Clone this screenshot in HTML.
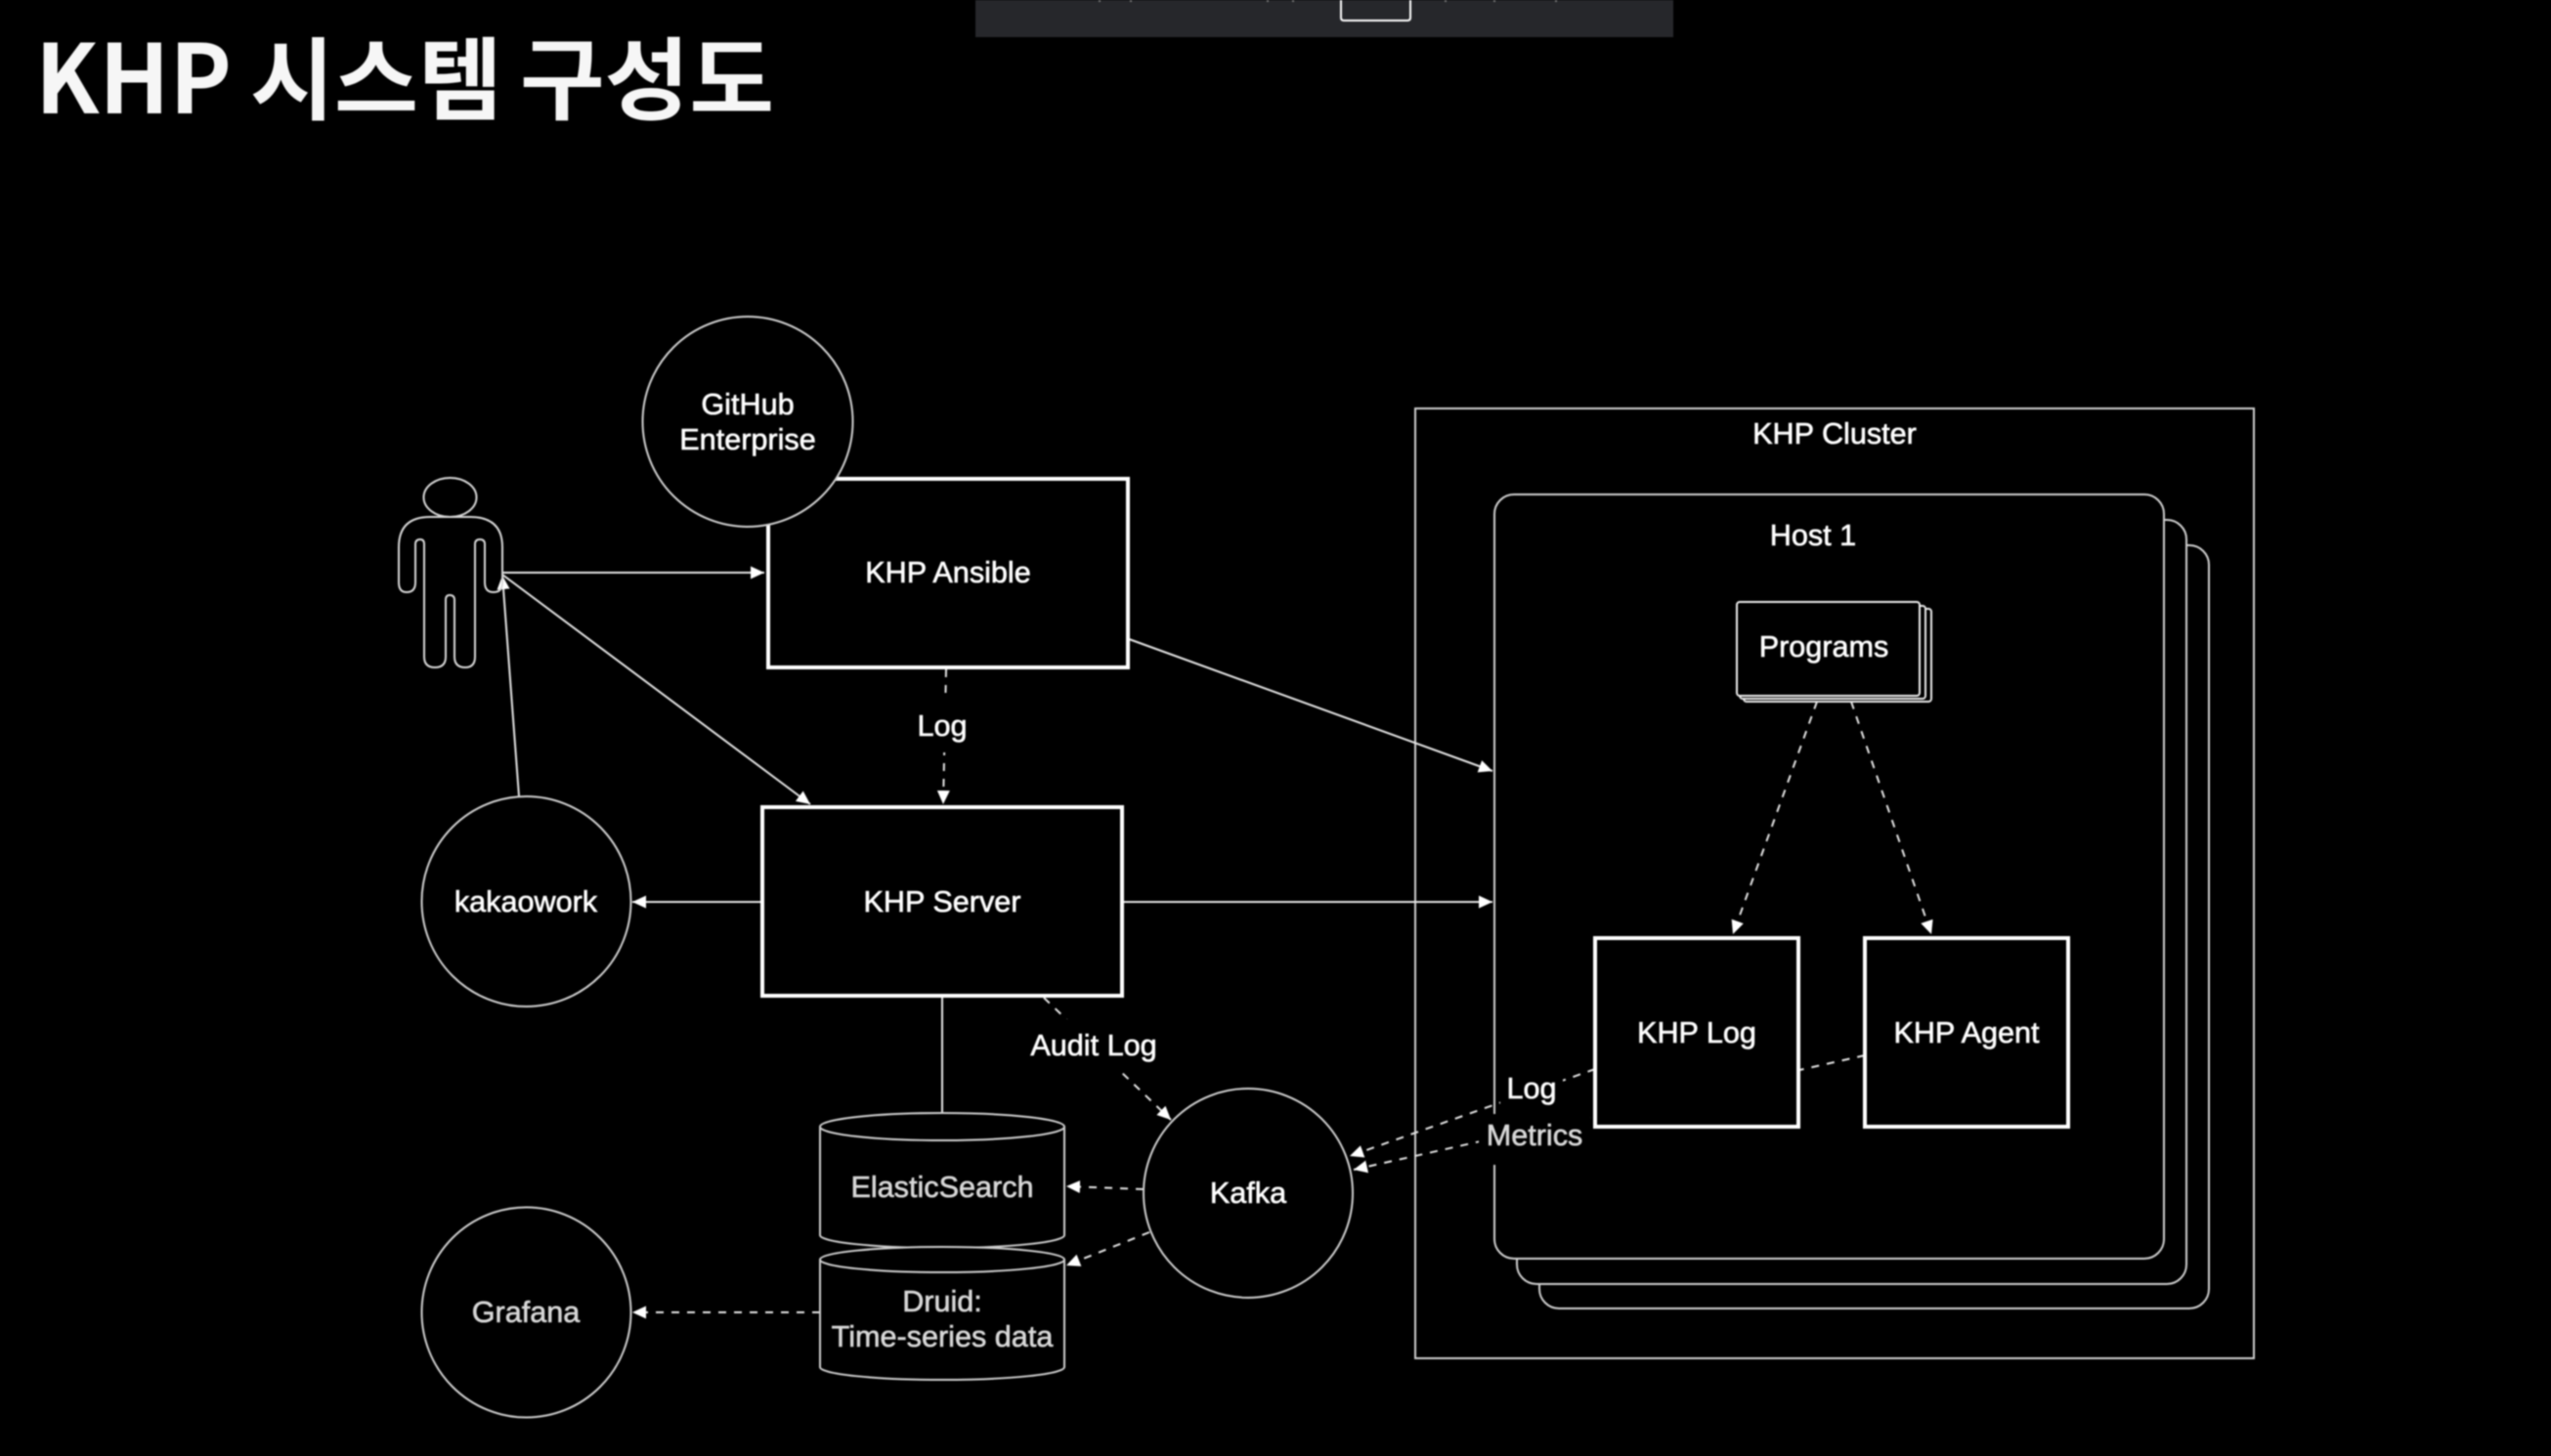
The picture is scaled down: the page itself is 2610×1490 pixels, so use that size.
<!DOCTYPE html>
<html lang="ko">
<head>
<meta charset="utf-8">
<title>KHP 시스템 구성도</title>
<style>
html,body{margin:0;padding:0;background:#000;width:2610px;height:1490px;overflow:hidden}
svg{display:block;filter:blur(0.7px)}
text{font-family:"Liberation Sans",Arial,sans-serif;font-size:30.6px;fill:#fff;stroke:#fff;stroke-width:.6px;text-anchor:middle;dominant-baseline:central}
text:not(.t){transform:translateY(-1px)}
.t{font-family:"Noto Sans CJK KR","Liberation Sans",sans-serif;font-weight:700;stroke-width:0;text-anchor:start;dominant-baseline:auto;fill:#f6f6f6}
.thin{fill:#000;stroke:#cfcfcf;stroke-width:2}
.box{fill:#000;stroke:#fff;stroke-width:4}
.l{fill:none;stroke:#e4e4e4;stroke-width:2}
.a{marker-end:url(#h)}
.d{stroke-dasharray:8 8}
.g{fill:#d8d8d8;stroke:#d8d8d8}
</style>
</head>
<body>
<svg width="2610" height="1490" viewBox="0 0 2610 1490" xmlns="http://www.w3.org/2000/svg">
<defs>
<marker id="h" markerUnits="userSpaceOnUse" markerWidth="15" markerHeight="14" refX="14" refY="6.5" orient="auto">
<path d="M0,0 L14,6.5 L0,13 z" fill="#fff"/>
</marker>
</defs>

<rect width="2610" height="1490" fill="#000"/>
<!-- top bar -->
<rect x="998" y="0" width="714" height="38" fill="#26272b"/>
<path d="M1372,0 V18 Q1372,21 1375,21 H1440 Q1443,21 1443,18 V0" fill="#26272b" stroke="#fff" stroke-width="2"/>
<g stroke="#777" stroke-width="2">
<path d="M1125,0v2M1157,0v2M1297,0v2M1323,0v2M1479,0v2M1529,0v2M1592,0v2"/>
</g>

<!-- title -->
<text class="t" x="36" y="116" style="font-size:98px" textLength="201" lengthAdjust="spacingAndGlyphs">KHP</text>
<text class="t" x="256" y="115" style="font-size:92px" textLength="258" lengthAdjust="spacingAndGlyphs">시스템</text>
<text class="t" x="532" y="115" style="font-size:92px" textLength="260" lengthAdjust="spacingAndGlyphs">구성도</text>

<!-- cluster -->
<rect class="thin" x="1448" y="418" width="858" height="972"/>
<text x="1877" y="445">KHP Cluster</text>

<!-- hosts -->
<rect class="thin" x="1575" y="558" width="685" height="781" rx="20"/>
<rect class="thin" x="1552" y="532" width="685" height="782" rx="20"/>
<rect class="thin" x="1529" y="506" width="685" height="782" rx="20"/>
<text x="1855" y="549">Host 1</text>

<!-- programs stack -->
<rect x="1784" y="623" width="192" height="95" rx="3" fill="#000" stroke="#e8e8e8" stroke-width="2"/>
<rect x="1780" y="620" width="190" height="95" rx="3" fill="#000" stroke="#e8e8e8" stroke-width="2"/>
<rect x="1777" y="616" width="187" height="96" rx="3" fill="#000" stroke="#eee" stroke-width="2"/>
<text x="1866" y="663">Programs</text>

<!-- connectors (solid) -->
<line class="l a" x1="514" y1="586" x2="782" y2="586"/>
<line class="l a" x1="531" y1="815" x2="514" y2="589"/>
<line class="l a" x1="514" y1="588" x2="829" y2="823"/>
<line class="l a" x1="1155" y1="654" x2="1527" y2="789"/>
<line class="l a" x1="1148" y1="923" x2="1527" y2="923"/>
<line class="l a" x1="779" y1="923" x2="647" y2="923"/>
<line class="l" x1="964" y1="1019" x2="964" y2="1139" stroke="#ccc"/>

<!-- connectors (dashed) -->
<line class="l a d" x1="968" y1="685" x2="965" y2="823"/>
<line class="l a d" x1="1068" y1="1021" x2="1198" y2="1146"/>
<line class="l a d" x1="1170" y1="1217" x2="1091" y2="1214"/>
<line class="l a d" x1="1176" y1="1261" x2="1091" y2="1295"/>
<line class="l a d" x1="839" y1="1343" x2="647" y2="1343"/>
<line class="l a d" x1="1859" y1="718" x2="1773" y2="956"/>
<line class="l a d" x1="1894" y1="718" x2="1976" y2="956"/>
<line class="l a d" x1="1632" y1="1094" x2="1381" y2="1183"/>
<line class="l a d" x1="1908" y1="1080" x2="1385" y2="1197"/>

<!-- label masks -->
<rect x="935" y="717" width="60" height="53" fill="#000"/>
<rect x="1045" y="1043" width="150" height="55" fill="#000"/>
<rect x="1535" y="1094" width="64" height="44" fill="#000"/>
<rect x="1513" y="1140" width="114" height="52" fill="#000"/>

<!-- labels -->
<text x="964" y="744">Log</text>
<text x="1119" y="1071">Audit Log</text>
<text x="1567" y="1115">Log</text>
<text x="1570" y="1163" class="g">Metrics</text>

<!-- boxes -->
<rect class="box" x="786" y="490" width="368" height="193"/>
<text x="970" y="587">KHP Ansible</text>
<rect class="box" x="780" y="826" width="368" height="193"/>
<text x="964" y="924">KHP Server</text>
<rect class="box" x="1632" y="960" width="208" height="193"/>
<text x="1736" y="1058">KHP Log</text>
<rect class="box" x="1908" y="960" width="208" height="193"/>
<text x="2012" y="1058">KHP Agent</text>

<!-- circles -->
<ellipse class="thin" cx="765" cy="431.5" rx="107.5" ry="107.5"/>
<text x="765" y="415">GitHub</text>
<text x="765" y="451">Enterprise</text>
<ellipse class="thin" cx="538.5" cy="922.5" rx="107" ry="107.5"/>
<text x="538" y="924">kakaowork</text>
<ellipse class="thin" cx="538.5" cy="1343" rx="107" ry="107.5"/>
<text x="538" y="1344" class="g">Grafana</text>
<circle class="thin" cx="1277" cy="1221" r="107"/>
<text x="1277" y="1222">Kafka</text>

<!-- ElasticSearch cylinder -->
<path class="thin" d="M839,1153 V1264 A125,13 0 0 0 1089,1264 V1153"/>
<ellipse class="thin" cx="964" cy="1153" rx="125" ry="14"/>
<text x="964" y="1216" class="g">ElasticSearch</text>

<!-- Druid cylinder -->
<path class="thin" d="M839,1289 V1399 A125,13 0 0 0 1089,1399 V1289"/>
<ellipse class="thin" cx="964" cy="1289" rx="125" ry="13"/>
<text x="964" y="1333" class="g">Druid:</text>
<text x="964" y="1369" class="g">Time-series data</text>

<!-- person -->
<ellipse cx="460.5" cy="509" rx="27" ry="20" fill="none" stroke="#d8d8d8" stroke-width="2"/>
<path d="M408,560 Q408,529 440,529 H481 Q514,529 514,560 V596 Q514,606 505,606 Q496,606 496,596 V557 Q496,552 491,552 Q486,552 486,557 V672 Q486,683 476,683 Q465,683 465,672 V614 Q465,609 460,609 Q456,609 456,614 V672 Q456,683 445,683 Q434,683 434,672 V557 Q434,552 430,552 Q425,552 425,557 V596 Q425,606 416,606 Q408,606 408,596 Z" fill="none" stroke="#d8d8d8" stroke-width="2"/>
</svg>
</body>
</html>
